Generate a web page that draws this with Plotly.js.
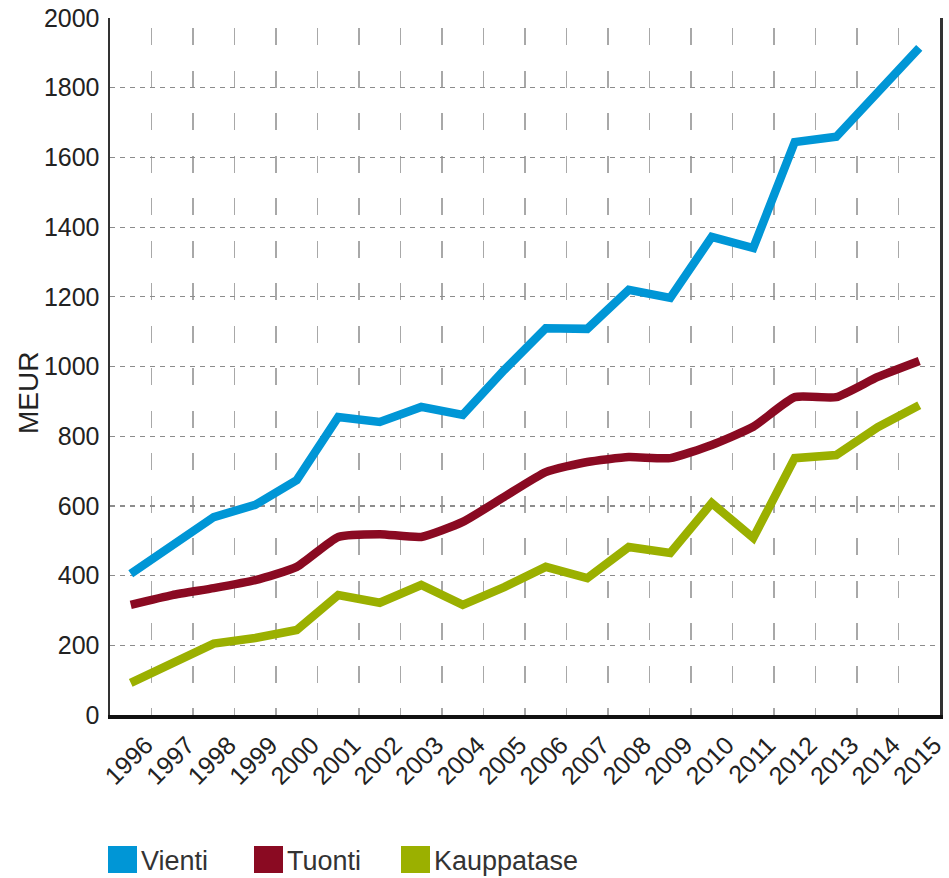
<!DOCTYPE html>
<html>
<head>
<meta charset="utf-8">
<script src="https://cdn.plot.ly/plotly-3.0.1.min.js"></script>
<style>html,body{margin:0;padding:0;background:#fff;}#chart{width:949px;height:878px;}</style>
</head>
<body>
<div id="chart"></div>
<script>
// Data (MEUR)
const years = ['1996','1997','1998','1999','2000','2001','2002','2003','2004','2005','2006','2007','2008','2009','2010','2011','2012','2013','2014','2015'];
const vienti = [405, 490, 568, 603, 674, 855, 841, 884, 861, 990, 1110, 1108, 1220, 1197, 1372, 1340, 1644, 1659, 1785, 1914];
const tuonti = [316, 344, 364, 387, 425, 511, 519, 511, 554, 626, 697, 726, 740, 737, 775, 827, 912, 912, 970, 1016];
const kauppatase = [92, 149, 205, 221, 244, 344, 322, 373, 316, 367, 425, 393, 482, 465, 608, 508, 737, 746, 826, 889];
const seriesNames = ['Vienti', 'Tuonti', 'Kauppatase'];
const seriesColors = ['#0096d6', '#8a0a22', '#9bb000'];
const yTicks = [0, 200, 400, 600, 800, 1000, 1200, 1400, 1600, 1800, 2000];
const yTitle = 'MEUR';

const FONT = 'Liberation Sans Narrow, Arial Narrow, Liberation Sans, Arial, sans-serif';

const seriesData = [vienti, tuonti, kauppatase];
const traces = seriesData.map((vals, i) => ({
  type: 'scatter',
  mode: 'lines',
  name: seriesNames[i],
  x: years,
  y: vals,
  line: {color: seriesColors[i], width: 8.5, shape: i === 1 ? 'spline' : 'linear', smoothing: 0.5},
  showlegend: false,
  hoverinfo: 'x+y+name'
}));

// Custom legend (large colour squares) placed below the plot
const W = 949, H = 878;
const L = 110, R = 9, T = 18, B = 163;
const pw = W - L - R, ph = H - T - B;
const px = v => (v - L) / pw;
const py = v => (H - B - v) / ph;
const legX = [108, 254, 401];
const shapes = [];
const annotations = [];
seriesNames.forEach((n, i) => {
  shapes.push({type: 'rect', xref: 'paper', yref: 'paper',
    x0: px(legX[i]), x1: px(legX[i] + 29), y0: py(873), y1: py(846),
    fillcolor: seriesColors[i], line: {width: 0}});
  annotations.push({xref: 'paper', yref: 'paper', x: px(legX[i] + 31), y: py(861),
    xanchor: 'left', yanchor: 'middle', text: n, showarrow: false,
    font: {family: FONT, size: 27, color: '#333'}});
});
// Y-axis title placed as rotated text to match the reference position
annotations.push({xref: 'paper', yref: 'paper', x: px(28), y: py(393),
  xanchor: 'center', yanchor: 'middle', textangle: -90, text: yTitle, showarrow: false,
  font: {family: 'Liberation Sans, Arial, sans-serif', size: 28, color: '#222'}});

const layout = {
  width: W, height: H,
  margin: {l: L, r: R, t: T, b: B, pad: 0},
  paper_bgcolor: '#fff', plot_bgcolor: '#fff',
  showlegend: false,
  xaxis: {
    type: 'category',
    tickson: 'boundaries',
    tickangle: -45,
    ticks: '',
    ticklabelshift: 15,
    ticklabelstandoff: 2,
    showgrid: true,
    gridcolor: '#a8a8a8', gridwidth: 1.5, griddash: '0px,10px,17px,15.5px',
    showline: true, linecolor: '#111', linewidth: 3.5,
    tickfont: {family: FONT, size: 25, color: '#222'},
    range: [-0.5, 19.5],
    fixedrange: true
  },
  yaxis: {
    range: [0, 2000],
    tickvals: yTicks,
    ticktext: yTicks.map(String),
    ticks: '',
    ticklabelstandoff: 3,
    showgrid: true,
    gridcolor: '#8c8c8c', gridwidth: 1.2, griddash: '5px,5px',
    zeroline: false,
    showline: true, mirror: true, linecolor: '#333', linewidth: 2.5,
    tickfont: {family: FONT, size: 25, color: '#222'},
    fixedrange: true
  },
  shapes: shapes,
  annotations: annotations
};

Plotly.newPlot('chart', traces, layout, {displayModeBar: false, staticPlot: true});
</script>
</body>
</html>
